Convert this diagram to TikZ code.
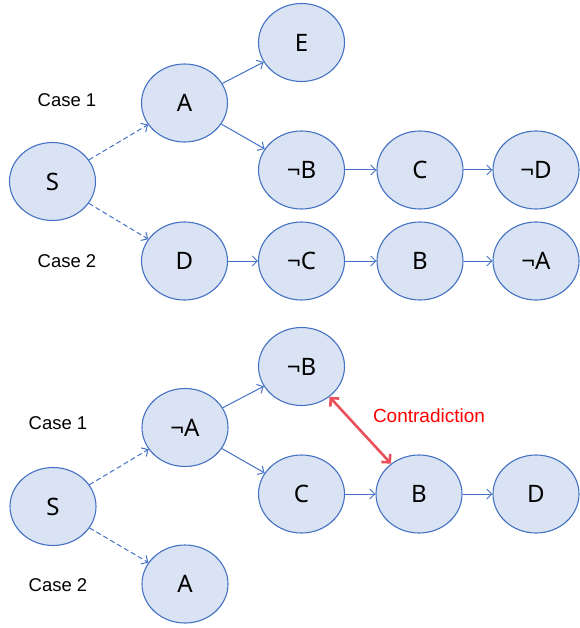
\documentclass[tikz,border=0pt]{standalone}
\usepackage{fontspec}
\setmainfont{Liberation Sans}
\newfontfamily\nodefont{Noto Sans}
\usetikzlibrary{shapes.geometric,arrows.meta}
\definecolor{nfill}{HTML}{DAE3F3}
\definecolor{nline}{HTML}{4472C4}
\definecolor{contra}{HTML}{E8505B}
\tikzset{
  st/.style={ellipse,draw=nline,fill=nfill,line width=1.1pt,minimum width=86pt,minimum height=78pt,inner sep=0pt,font=\nodefont\fontsize{24}{28}\selectfont},
  arr/.style={draw=nline,line width=1pt,-{Straight Barb[length=5pt,width=10pt]}},
  darr/.style={arr,dash pattern=on 5pt off 3pt},
  caselbl/.style={font=\fontsize{18.5}{20}\selectfont},
  redarr/.style={draw=contra,line width=2.6pt,{Straight Barb[length=6pt,width=12pt]}-{Straight Barb[length=6pt,width=12pt]}}
}
\begin{document}
\begin{tikzpicture}[x=1pt,y=-1pt]
\useasboundingbox (0,0) rectangle (579,628);
% top diagram
\node[st] (S1) at (52.5,181.5) {S};
\node[st] (A1) at (184.5,103) {A};
\node[st] (E1) at (301.5,42.5) {E};
\node[st] (nB1) at (301.5,170) {¬B};
\node[st] (C1) at (420,170) {C};
\node[st] (nD1) at (536,170) {¬D};
\node[st] (D1) at (184.5,261) {D};
\node[st] (nC1) at (301.5,261) {¬C};
\node[st] (B1) at (420,261) {B};
\node[st] (nA1) at (536,261) {¬A};
\node[caselbl] (c11) at (67,100) {Case 1};
\node[caselbl] (c12) at (67,261) {Case 2};
\draw[darr] (S1) -- (A1);
\draw[darr] (S1) -- (D1);
\draw[arr] (A1) -- (E1);
\draw[arr] (A1) -- (nB1);
\draw[arr] (nB1) -- (C1);
\draw[arr] (C1) -- (nD1);
\draw[arr] (D1) -- (nC1);
\draw[arr] (nC1) -- (B1);
\draw[arr] (B1) -- (nA1);
% bottom diagram
\node[st] (S2) at (53,506.5) {S};
\node[st] (nA2) at (185,427.5) {¬A};
\node[st] (A2) at (185,584) {A};
\node[st] (nB2) at (301.5,366.5) {¬B};
\node[st] (C2) at (301.5,494) {C};
\node[st] (B2) at (419,494) {B};
\node[st] (D2) at (536,494) {D};
\node[caselbl] (c21) at (58,423) {Case 1};
\node[caselbl] (c22) at (58,585) {Case 2};
\draw[darr] (S2) -- (nA2);
\draw[darr] (S2) -- (A2);
\draw[arr] (nA2) -- (nB2);
\draw[arr] (nA2) -- (C2);
\draw[arr] (C2) -- (B2);
\draw[arr] (B2) -- (D2);
\draw[redarr] (nB2) -- (B2);
\node[text=red,font=\fontsize{19}{21}\selectfont] (ctr) at (429,416) {Contradiction};
\end{tikzpicture}
\end{document}
